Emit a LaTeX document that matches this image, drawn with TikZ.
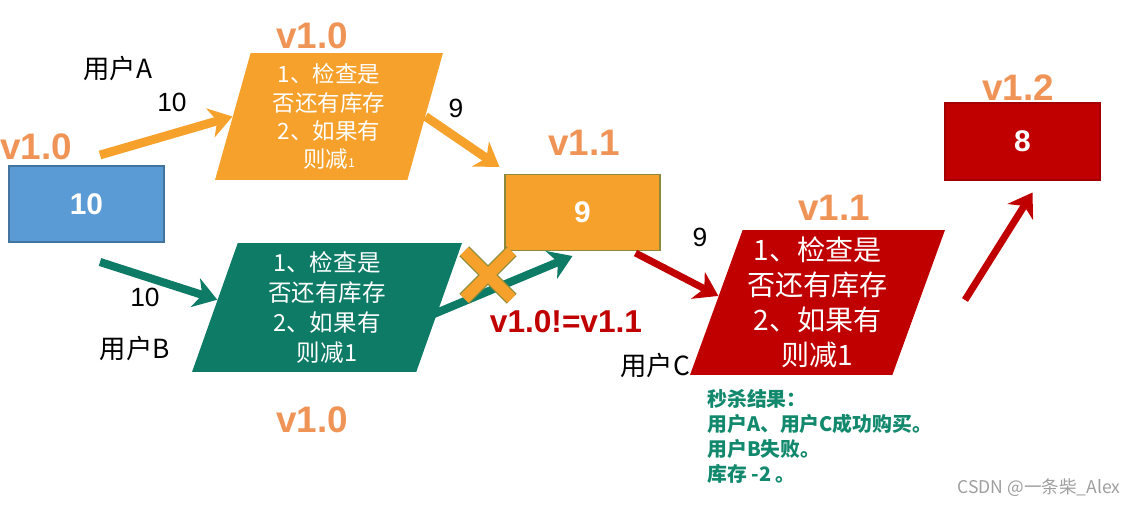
\documentclass[tikz,border=0pt]{standalone}
\usepackage{fontspec}
\setmainfont{Noto Sans CJK SC}
\newfontfamily\arial{Liberation Sans}
\usepackage{xcolor}
\usepackage{tikz}
\usetikzlibrary{arrows.meta,positioning,calc,shapes.geometric,shapes.misc}
\definecolor{bx}{HTML}{5B9BD5}
\definecolor{og}{HTML}{F6A12C}
\definecolor{gn}{HTML}{0E7B67}
\definecolor{rd}{HTML}{C00000}
\definecolor{vr}{HTML}{EF9456}
\definecolor{rs}{HTML}{12886C}
\definecolor{ol}{HTML}{8C8A3A}
\newcommand{\Fs}[2]{\fontsize{#1}{#2}\selectfont}

\tikzset{
  qty/.style={draw, line width=0.6pt, minimum width=3.1cm, minimum height=1.52cm,
    text=white, font=\arial\Fs{17}{19}},
  chk/.style={trapezium, trapezium stretches body, inner sep=0pt, text=white, align=center},
  ver/.style={text=vr, font=\arial\bfseries\Fs{21}{24}},
  usr/.style={font=\Fs{15}{17}},
  num/.style={font=\arial\Fs{15}{17}},
  flow/.style={draw=#1, -{Stealth[length=13pt,width=17pt,inset=4pt]}},
}

\begin{document}
\begin{tikzpicture}[x=0.02cm, y=-0.02cm]
  \useasboundingbox (0,0) rectangle (1144,507);

  \node[chk, fill=og, trapezium left angle=71.3, trapezium right angle=108.7,
    minimum width=4.56cm, minimum height=2.54cm, font=\Fs{12.8}{16}]
    (chkA) at (329,116.5) {1、检查是\\否还有库存\\2、如果有\\则减{\Fs{7}{7}1}};
  \node[chk, fill=gn, trapezium left angle=67.7, trapezium right angle=112.3,
    minimum width=5.4cm, minimum height=2.58cm, font=\Fs{13.4}{17}]
    (chkB) at (327,307.5) {1、检查是\\否还有库存\\2、如果有\\则减1};
  \node[usr, anchor=east, inner sep=1pt] (usrC) at (692,365) {用户C};
  \node[chk, fill=rd, trapezium left angle=68.2, trapezium right angle=111.8,
    minimum width=5.1cm, minimum height=2.9cm, font=\Fs{16}{20}]
    (chkC) at (817.5,302.5) {1、检查是\\否还有库存\\2、如果有\\则减1};

  \node[qty, fill=bx, draw=bx!75!black] (qtyA) at (86.5,204) {\textbf{10}};
  \node[qty, fill=og, draw=ol] (qtyB) at (582.5,212.5) {\textbf{9}};
  \node[qty, fill=rd, draw=rd!85!black, minimum height=1.54cm] (qtyC) at (1022.5,141.5) {\textbf{8}};

  \node[ver] (vA) at (36,147) {v1.0};
  \node[ver] (vChkA) at (312,36) {v1.0};
  \node[ver] (vB) at (584,143) {v1.1};
  \node[ver] (vChkB) at (312,420) {v1.0};
  \node[ver] (vChkC) at (834,208) {v1.1};
  \node[ver] (vC) at (1018,88) {v1.2};

  \coordinate (inA) at (100,155);
  \coordinate (inB) at (100,262);
  \coordinate (upC) at (965,300);
  \draw[flow=og, line width=5pt] (inA) -- ($(chkA.top left corner)!0.5!(chkA.bottom left corner)$);
  \draw[flow=og, line width=5pt] ($(chkA.top right corner)!0.5!(chkA.bottom right corner)$)
    -- ($(qtyB.north west)+(-5,-7)$);
  \draw[flow=gn, line width=4.6pt] (inB) -- ($(chkB.top left corner)!0.44!(chkB.bottom left corner)$);
  \draw[flow=gn, line width=4.6pt] ($(chkB.top right corner)!0.56!(chkB.bottom right corner)+(-6,0)$)
    -- ($(qtyB.south)+(-10,5)$);
  \draw[flow=rd, line width=4pt] ($(qtyB.south east)+(-25,2)$)
    -- ($(chkC.top left corner)!0.455!(chkC.bottom left corner)$);
  \draw[flow=rd, line width=4pt] (upC) -- ($(qtyC.south)+(10,12)$);

  \node[cross out, draw=og, line width=6.5pt, minimum size=0.72cm,
    preaction={draw=ol, line width=8pt}] (fail) at (488,275) {};

  \node[usr] (usrA) at (118,68) {用户A};
  \node[usr] (usrB) at (135,348) {用户B};
  \node[num] (nA) at (172,102) {10};
  \node[num] (nB) at (145,297) {10};
  \node[num] (nA2) at (456,108) {9};
  \node[num] (nC) at (700,237) {9};
  \node[text=rd, font=\arial\bfseries\Fs{18}{20}] (neq) at (566,322) {v1.0!=v1.1};

  \node[anchor=north west, inner sep=0pt, align=left, text=rs, font=\bfseries\Fs{11.3}{14.2}]
    (res) at (707,389) {秒杀结果：\\用户A、用户C成功购买。\\用户B失败。\\库存 -2 。};
  \node[text=gray!75, font=\Fs{10}{12}] (mark) at (1039,488) {CSDN @一条柴\_Alex};
\end{tikzpicture}
\end{document}
